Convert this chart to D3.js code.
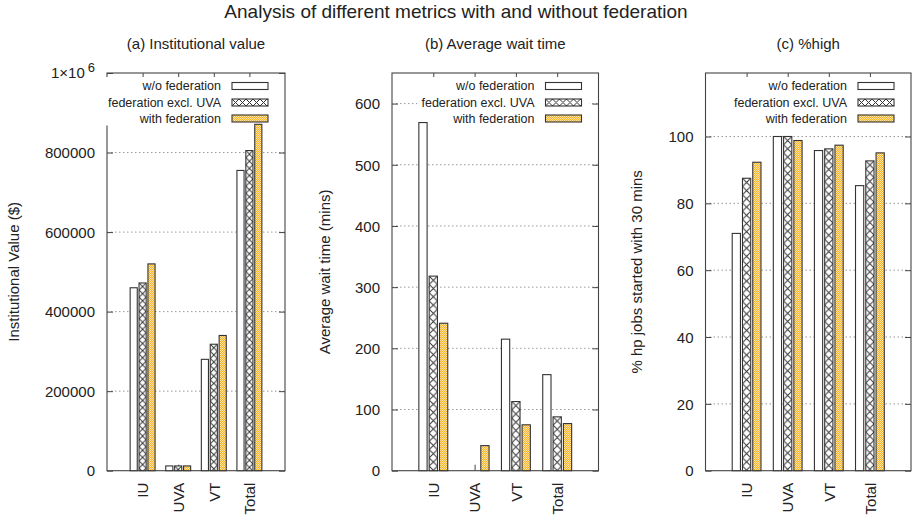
<!DOCTYPE html>
<html>
<head>
<meta charset="utf-8">
<script src="https://cdn.jsdelivr.net/npm/d3@7"></script>
<style>
  body { margin: 0; background: #fff; }
  text { font-family: "Liberation Sans", Arial, sans-serif; fill: #222; }
</style>
</head>
<body>
<script>
'use strict';

// categories and series
const categories = ["IU", "UVA", "VT", "Total"];
const seriesNames = ["w/o federation", "federation excl. UVA", "with federation"];

// (a) institutional value ($)
const valueWithout = [460000, 12000, 280000, 755000];
const valueExclUva = [472000, 12000, 318000, 805000];
const valueWith = [520000, 12000, 340000, 871000];
const valueTicks = [0, 200000, 400000, 600000, 800000, 1000000];

// (b) average wait time (mins)
const waitWithout = [569, 0, 215, 157];
const waitExclUva = [318, 0, 113, 88];
const waitWith = [241, 41, 75, 77];
const waitTicks = [0, 100, 200, 300, 400, 500, 600];

// (c) % hp jobs started within 30 mins
const highWithout = [71, 100, 95.8, 85.3];
const highExclUva = [87.5, 100, 96.3, 92.7];
const highWith = [92.3, 98.8, 97.4, 95.1];
const highTicks = [0, 20, 40, 60, 80, 100];

(function() {

  let svg = "";
  let patternCount = 0;

  window.onload = function() {
    svg = d3.select('body')
      .append('svg')
      .attr('width', 913)
      .attr('height', 518);

    svg.append('defs');
    makeDots();

    svg.append('text')
      .attr('x', 456)
      .attr('y', 18)
      .attr('text-anchor', 'middle')
      .style('font-size', '19px')
      .text('Analysis of different metrics with and without federation');

    makePanel({
      title: '(a) Institutional value', yLabel: 'Institutional Value ($)', yLabelX: 14,
      left: 107, right: 285, yMax: 1000000, ticks: valueTicks,
      series: [valueWithout, valueExclUva, valueWith]
    });
    makePanel({
      title: '(b) Average wait time', yLabel: 'Average wait time (mins)', yLabelX: 325,
      left: 392, right: 598.5, yMax: 650, ticks: waitTicks,
      series: [waitWithout, waitExclUva, waitWith]
    });
    makePanel({
      title: '(c) %high', yLabel: '% hp jobs started with 30 mins', yLabelX: 637,
      left: 705.5, right: 911, yMax: 119, ticks: highTicks,
      series: [highWithout, highExclUva, highWith]
    });
  }

  function makePanel(p) {
    let yTop = 73, yBottom = 470.7;
    let g = svg.append('g');

    let x = d3.scaleLinear().domain([-1, categories.length]).range([p.left, p.right]);
    let y = d3.scaleLinear().domain([0, p.yMax]).range([yBottom, yTop]);

    // frame first (things painted after the pattern bars got lost)
    g.append('rect')
      .attr('x', p.left)
      .attr('y', yTop)
      .attr('width', p.right - p.left)
      .attr('height', yBottom - yTop)
      .attr('fill', 'none')
      .attr('stroke', '#444')
      .attr('stroke-width', 1.1);

    // titles
    g.append('text')
      .attr('x', (p.left + p.right) / 2)
      .attr('y', 49)
      .attr('text-anchor', 'middle')
      .style('font-size', '15px')
      .text(p.title);

    g.append('text')
      .attr('transform', 'translate(' + (p.yLabelX + 5) + ',' + ((yTop + yBottom) / 2) + ')rotate(-90)')
      .attr('text-anchor', 'middle')
      .style('font-size', '15px')
      .text(p.yLabel);

    // dotted grid
    g.selectAll('.grid')
      .data(p.ticks.filter((t) => t > 0 && t < p.yMax))
      .enter()
      .append('line')
        .attr('x1', p.left)
        .attr('x2', p.right)
        .attr('y1', (d) => y(d))
        .attr('y2', (d) => y(d))
        .attr('stroke', '#999')
        .attr('stroke-width', 1)
        .attr('stroke-dasharray', '1.5,2.5');

    // y axis left with labels, right mirrored
    let yAxis = d3.axisLeft(y).tickValues(p.ticks).tickSize(-6).tickPadding(12)
      .tickFormat((d) => d == 1000000 ? '' : d);
    let ya = g.append('g')
      .attr('transform', 'translate(' + p.left + ',0)')
      .call(yAxis);
    styleAxis(ya);
    ya.selectAll('text').style('font-size', '15px').attr('dy', '0.35em');
    if (p.yMax == 1000000) {
      let sup = ya.append('text')
        .attr('x', -12)
        .attr('y', y(1000000))
        .attr('dy', '0.35em')
        .attr('text-anchor', 'end')
        .style('font-size', '15px');
      sup.append('tspan').text('1\u00d710');
      sup.append('tspan').attr('dy', '-0.45em').attr('dx', '3').style('font-size', '13px').text('6');
    }
    let yr = g.append('g')
      .attr('transform', 'translate(' + p.right + ',0)')
      .call(d3.axisRight(y).tickValues(p.ticks).tickSize(-6).tickFormat(() => ''));
    styleAxis(yr);

    // x axis bottom with rotated labels, top mirrored
    let xa = g.append('g')
      .attr('transform', 'translate(0,' + yBottom + ')')
      .call(d3.axisBottom(x).tickValues(d3.range(categories.length)).tickSize(-6)
        .tickFormat((d) => categories[d]));
    styleAxis(xa);
    xa.selectAll('text')
      .attr('transform', 'rotate(-90)')
      .attr('x', -12)
      .attr('y', 0)
      .attr('dy', '0.35em')
      .style('text-anchor', 'end')
      .style('font-size', '15px');
    let xt = g.append('g')
      .attr('transform', 'translate(0,' + yTop + ')')
      .call(d3.axisTop(x).tickValues(d3.range(categories.length)).tickSize(-6).tickFormat(() => ''));
    styleAxis(xt);

    // legend background goes under the bars
    let lg = g.append('g');

    // bars
    let unit = x(1) - x(0);
    let bw = unit * 0.2;
    p.series.forEach((vals, j) => {
      g.selectAll('.bar' + j)
        .data(vals.map((v, i) => ({ i: i, v: v })).filter((d) => d.v > 0))
        .enter()
        .append('rect')
          .attr('x', (d) => x(d.i + (j - 1) * 0.25) - bw / 2)
          .attr('y', (d) => y(d.v))
          .attr('width', bw)
          .attr('height', (d) => yBottom - y(d.v))
          .attr('fill', (d) => barFill(j, x(d.i + (j - 1) * 0.25) - bw / 2, y(d.v), bw))
          .attr('stroke', '#333')
          .attr('stroke-width', 1.1);
    });

    makeLegend(lg, p.right);
  }

  function styleAxis(a) {
    a.select('.domain').remove();
    a.selectAll('line').attr('stroke', '#444');
  }

  // fill for series j: plain, cross hatch, dotted orange
  function barFill(j, bx, by, bw) {
    if (j == 0) return '#fff';
    if (j == 2) return 'url(#dots)';
    let id = 'hatch' + (patternCount++);
    let pat = svg.select('defs').append('pattern')
      .attr('id', id)
      .attr('patternUnits', 'userSpaceOnUse')
      .attr('x', bx)
      .attr('y', by)
      .attr('width', bw)
      .attr('height', bw);
    pat.append('rect').attr('width', bw).attr('height', bw).attr('fill', '#fff');
    pat.append('path')
      .attr('d', 'M0,0L' + bw + ',' + bw + 'M' + bw + ',0L0,' + bw)
      .attr('stroke', '#333')
      .attr('stroke-width', 1);
    return 'url(#' + id + ')';
  }

  function makeDots() {
    let pat = svg.select('defs').append('pattern')
      .attr('id', 'dots')
      .attr('patternUnits', 'userSpaceOnUse')
      .attr('width', 2)
      .attr('height', 2);
    pat.append('rect').attr('width', 2).attr('height', 2).attr('fill', '#f7b42a');
    pat.append('rect').attr('width', 1).attr('height', 1).attr('fill', '#fde3a4');
    pat.append('rect').attr('x', 1).attr('y', 1).attr('width', 1).attr('height', 1).attr('fill', '#fde3a4');
  }

  function makeLegend(lg, right) {
    let boxRight = right - 17, boxW = 36, boxH = 7;
    let rows = [86, 102.5, 118.5];
    let bg = lg.append('rect').attr('fill', '#fff');
    let maxW = 0;
    seriesNames.forEach((name, j) => {
      let t = lg.append('text')
        .attr('x', boxRight - boxW - 11)
        .attr('y', rows[j])
        .attr('dy', '0.35em')
        .attr('text-anchor', 'end')
        .style('font-size', '12.5px')
        .text(name);
      maxW = Math.max(maxW, t.node().getComputedTextLength());
      lg.append('rect')
        .attr('x', boxRight - boxW)
        .attr('y', rows[j] - boxH / 2)
        .attr('width', boxW)
        .attr('height', boxH)
        .attr('fill', barFill(j, boxRight - boxW, rows[j] - boxH / 2, boxH))
        .attr('stroke', '#333')
        .attr('stroke-width', 1.1);
    });
    bg.attr('x', boxRight - boxW - 11 - maxW - 4)
      .attr('y', rows[0] - 9)
      .attr('width', maxW + boxW + 11 + 4 + 8)
      .attr('height', rows[2] - rows[0] + 16);
  }

})();
</script>
</body>
</html>
